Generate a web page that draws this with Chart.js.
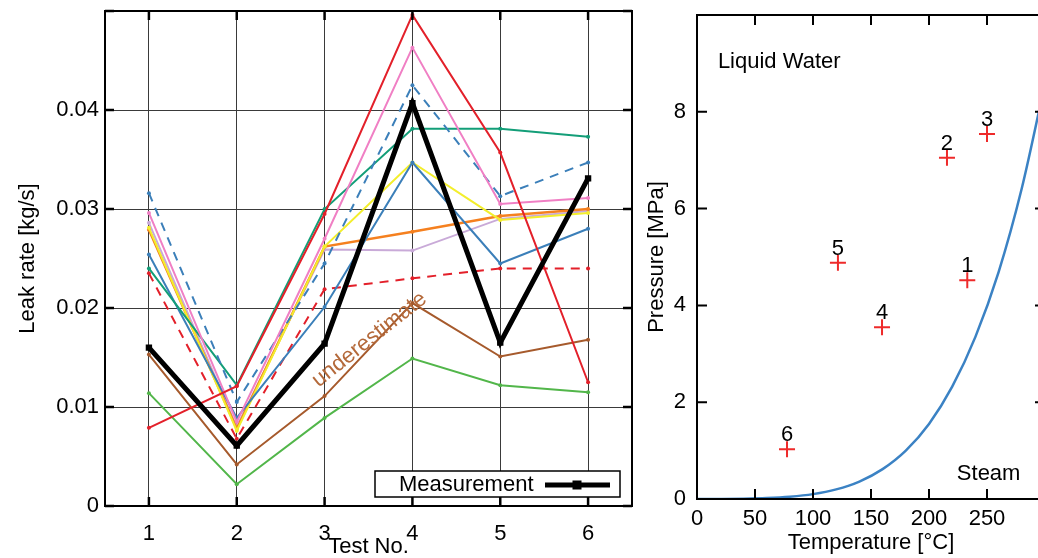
<!DOCTYPE html>
<html><head><meta charset="utf-8">
<script src="https://cdn.jsdelivr.net/npm/chart.js@4.4.1/dist/chart.umd.min.js"></script>
<style>
html,body{margin:0;padding:0;background:#fff;overflow:hidden;width:1038px;height:558px;}
#left{position:absolute;left:0;top:0;}
#right{position:absolute;left:640px;top:0;}
</style></head><body>
<canvas id="left" width="650" height="558"></canvas>
<canvas id="right" width="420" height="558"></canvas>
<script>
// ---------- Left chart data ----------
const testNos = ['1', '2', '3', '4', '5', '6'];
const leakTickValues = [0, 0.01, 0.02, 0.03, 0.04];
const leakTickLabels = ['0', '0.01', '0.02', '0.03', '0.04'];

const measurement = [0.0160, 0.0061, 0.0164, 0.0407, 0.0165, 0.0331];
const redSolid    = [0.0079, 0.0121, 0.0295, 0.0496, 0.0357, 0.0125];
const pinkSolid   = [0.0296, 0.0085, 0.0270, 0.0463, 0.0305, 0.0311];
const blueDashed  = [0.0316, 0.0105, 0.0245, 0.0425, 0.0313, 0.0347];
const tealSolid   = [0.0240, 0.0122, 0.0300, 0.0381, 0.0381, 0.0373];
const blueSolid   = [0.0254, 0.0089, 0.0201, 0.0347, 0.0245, 0.0280];
const yellowSolid = [0.0281, 0.0076, 0.0262, 0.0347, 0.0289, 0.0296];
const orangeSolid = [0.0279, 0.0078, 0.0262, 0.0277, 0.0293, 0.0300];
const lavender    = [0.0286, 0.0080, 0.0259, 0.0258, 0.0290, 0.0298];
const redDashed   = [0.0235, 0.0068, 0.0219, 0.0230, 0.0240, 0.0240];
const brownSolid  = [0.0153, 0.0042, 0.0111, 0.0205, 0.0151, 0.0168];
const greenSolid  = [0.0114, 0.0022, 0.0089, 0.0149, 0.0122, 0.0115];

// ---------- Right chart data ----------
const testLabels = ['1', '2', '3', '4', '5', '6'];
const testTempC  = [233, 215.5, 250, 159.5, 121.5, 77.6];
const testPressMPa = [4.52, 7.05, 7.54, 3.55, 4.88, 1.03];
const satTempC   = [0, 20, 40, 60, 80, 100, 120, 140, 160, 180, 200, 220, 240, 260, 280, 300];
const satPressMPa = [0.0006, 0.0023, 0.0074, 0.0199, 0.0474, 0.101, 0.199, 0.361, 0.618, 1.00, 1.55, 2.32, 3.35, 4.69, 6.42, 8.59];
const tempTickValues = [0, 50, 100, 150, 200, 250];
const pressTickValues = [0, 2, 4, 6, 8];

const FONT = "'Liberation Sans', Arial, sans-serif";
const FS = 22;

const framePlugin = {
  id: 'frame',
  afterDatasetsDraw(chart, args, opts) {
    const {ctx, chartArea: a, scales} = chart;
    ctx.save();
    ctx.strokeStyle = '#000';
    ctx.lineWidth = opts.width || 2;
    ctx.strokeRect(a.left, a.top, a.right - a.left, a.bottom - a.top);
    const L = opts.tick || 9;
    ctx.lineWidth = opts.tickWidth || 2;
    ctx.beginPath();
    scales.x.ticks.forEach((t, i) => {
      const px = scales.x.getPixelForTick(i);
      ctx.moveTo(px, a.bottom); ctx.lineTo(px, a.bottom - L);
      ctx.moveTo(px, a.top); ctx.lineTo(px, a.top + L);
    });
    scales.y.ticks.forEach((t, i) => {
      const py = scales.y.getPixelForTick(i);
      ctx.moveTo(a.left, py); ctx.lineTo(a.left + L, py);
      ctx.moveTo(a.right, py); ctx.lineTo(a.right - L, py);
    });
    ctx.stroke();
    ctx.restore();
  }
};

const leftNotes = {
  id: 'leftNotes',
  afterDraw(chart) {
    const {ctx, chartArea: a, scales} = chart;
    ctx.save();
    const ux = scales.x.getPixelForValue(2.51);
    const uy = scales.y.getPixelForValue(0.0168);
    ctx.translate(ux, uy);
    ctx.rotate(-38.3 * Math.PI / 180);
    ctx.fillStyle = '#b4693a';
    ctx.font = FS + 'px ' + FONT;
    ctx.textAlign = 'center';
    ctx.textBaseline = 'middle';
    ctx.fillText('underestimate', 0, 0);
    ctx.restore();

    ctx.save();
    const bw = 245, bh = 26;
    const bx = a.right - 12 - bw, by = a.bottom - 9 - bh;
    ctx.fillStyle = '#fff';
    ctx.fillRect(bx, by, bw, bh);
    ctx.strokeStyle = '#000';
    ctx.lineWidth = 1.5;
    ctx.strokeRect(bx, by, bw, bh);
    ctx.fillStyle = '#000';
    ctx.font = FS + 'px ' + FONT;
    ctx.textAlign = 'left';
    ctx.textBaseline = 'middle';
    const cy = by + bh / 2 + 1;
    ctx.fillText(chart.data.datasets[0].label, bx + 24, cy);
    ctx.lineWidth = 5;
    ctx.beginPath();
    ctx.moveTo(bx + 170, cy); ctx.lineTo(bx + 235, cy);
    ctx.stroke();
    ctx.fillRect(bx + 202 - 4.5, cy - 4.5, 9, 9);
    ctx.restore();
  }
};

function series(label, data, color, opts) {
  return Object.assign({
    label, data,
    borderColor: color, backgroundColor: color,
    borderWidth: 2, pointRadius: 2, pointBorderWidth: 0,
    tension: 0, fill: false
  }, opts || {});
}

function fixH(h) { return s => { s.height = h; s.paddingLeft = 0; s.paddingRight = 0; }; }
function fixW(w) { return s => { s.width = w; s.paddingTop = 0; s.paddingBottom = 0; }; }

new Chart(document.getElementById('left'), {
  type: 'line',
  data: {
    labels: testNos,
    datasets: [
      series('Measurement', measurement, '#000', {borderWidth: 5, pointStyle: 'rect', pointRadius: 4.5}),
      series('Model A', redSolid, '#e3202a'),
      series('Model B', pinkSolid, '#f07fc4'),
      series('Model C', blueDashed, '#3b7fb9', {borderDash: [9, 7]}),
      series('Model D', tealSolid, '#139e78'),
      series('Model E', blueSolid, '#3b7fb9'),
      series('Model F', yellowSolid, '#f3ee2c'),
      series('Model G', orangeSolid, '#f5801f', {borderWidth: 2.5}),
      series('Model H', lavender, '#c9aad8'),
      series('Model I', redDashed, '#e3202a', {borderDash: [9, 7]}),
      series('Model J', brownSolid, '#a65a2c'),
      series('Model K', greenSolid, '#52b64a')
    ]
  },
  options: {
    responsive: false,
    animation: false,
    layout: {padding: {top: 11, right: 18, left: 0, bottom: 0}},
    plugins: {
      legend: {display: false},
      tooltip: {enabled: false},
      frame: {width: 2, tick: 9, tickWidth: 2.5}
    },
    scales: {
      x: {
        type: 'category',
        offset: true,
        grid: {offset: false, color: '#3a3a3a', lineWidth: 1, drawTicks: false},
        border: {display: true, color: '#000', width: 2},
        ticks: {color: '#000', font: {family: FONT, size: FS}, padding: 15, maxRotation: 0, autoSkip: false},
        title: {display: true, text: 'Test No.', color: '#000', font: {family: FONT, size: FS, lineHeight: 1}, padding: {top: 0, bottom: 0}},
        afterFit: fixH(52)
      },
      y: {
        min: 0, max: 0.05,
        grid: {color: '#3a3a3a', lineWidth: 1, drawTicks: false},
        border: {display: true, color: '#000', width: 2},
        ticks: {
          stepSize: 0.01, color: '#000', font: {family: FONT, size: FS}, padding: 6,
          callback(v) {
            const i = leakTickValues.findIndex(t => Math.abs(t - v) < 1e-9);
            return i >= 0 ? leakTickLabels[i] : '';
          }
        },
        title: {display: true, text: 'Leak rate [kg/s]', color: '#000', font: {family: FONT, size: FS, lineHeight: 1}, padding: {top: 17, bottom: 0}},
        afterFit: fixW(105)
      }
    }
  },
  plugins: [framePlugin, leftNotes]
});

const rightNotes = {
  id: 'rightNotes',
  afterDraw(chart) {
    const {ctx, scales} = chart;
    ctx.save();
    ctx.fillStyle = '#000';
    ctx.font = FS + 'px ' + FONT;
    ctx.textAlign = 'center';
    ctx.textBaseline = 'alphabetic';
    const meta = chart.getDatasetMeta(0);
    meta.data.forEach((pt, i) => {
      ctx.fillText(testLabels[i], pt.x, pt.y - 8);
    });
    ctx.textAlign = 'left';
    ctx.fillText('Liquid Water', scales.x.getPixelForValue(18), scales.y.getPixelForValue(8.9));
    ctx.fillText('Steam', scales.x.getPixelForValue(224), scales.y.getPixelForValue(0.39));
    ctx.restore();
  }
};

new Chart(document.getElementById('right'), {
  type: 'scatter',
  data: {
    datasets: [
      {
        label: 'Tests',
        data: testTempC.map((t, i) => ({x: t, y: testPressMPa[i]})),
        pointStyle: 'cross', pointRadius: 8, borderWidth: 2,
        borderColor: '#ee2a2a', backgroundColor: '#ee2a2a'
      },
      {
        label: 'Saturation',
        type: 'line',
        data: satTempC.map((t, i) => ({x: t, y: satPressMPa[i]})),
        borderColor: '#3b82c4', borderWidth: 2.5, pointRadius: 0,
        cubicInterpolationMode: 'monotone', fill: false
      }
    ]
  },
  options: {
    responsive: false,
    animation: false,
    layout: {padding: {top: 15, right: 15, left: 0, bottom: 0}},
    plugins: {
      legend: {display: false},
      tooltip: {enabled: false},
      frame: {width: 2, tick: 10, tickWidth: 2}
    },
    scales: {
      x: {
        type: 'linear', min: 0, max: 300,
        grid: {display: false, drawTicks: false},
        border: {display: true, color: '#000', width: 2},
        ticks: {
          stepSize: 50, color: '#000', font: {family: FONT, size: FS}, padding: 7, maxRotation: 0,
          callback(v) { return tempTickValues.includes(v) ? String(v) : ''; }
        },
        title: {display: true, text: 'Temperature [°C]', color: '#000', font: {family: FONT, size: FS, lineHeight: 1}, padding: {top: 0, bottom: 4}},
        afterFit: fixH(59)
      },
      y: {
        type: 'linear', min: 0, max: 10,
        grid: {display: false, drawTicks: false},
        border: {display: true, color: '#000', width: 2},
        ticks: {
          stepSize: 2, color: '#000', font: {family: FONT, size: FS}, padding: 11,
          callback(v) { return pressTickValues.includes(v) ? String(v) : ''; }
        },
        title: {display: true, text: 'Pressure [MPa]', color: '#000', font: {family: FONT, size: FS, lineHeight: 1}, padding: {top: 6, bottom: 0}},
        afterFit: fixW(57)
      }
    }
  },
  plugins: [framePlugin, rightNotes]
});
</script>
</body></html>
